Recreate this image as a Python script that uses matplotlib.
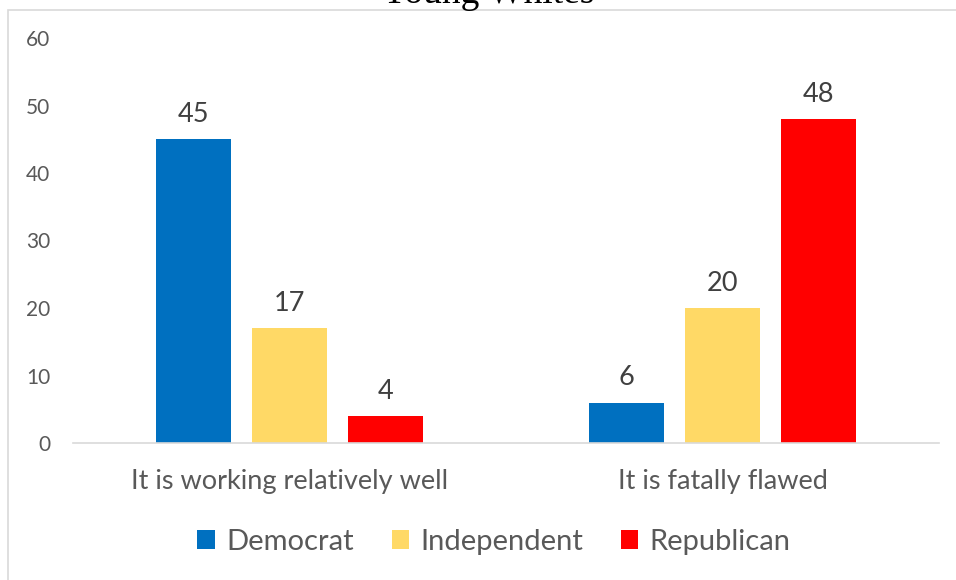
import numpy as np
import matplotlib.pyplot as plt
from matplotlib.patches import Rectangle

categories = ["It is working relatively well", "It is fatally flawed"]
parties = ["Democrat", "Independent", "Republican"]
democrat = [45, 6]
independent = [17, 20]
republican = [4, 48]
colors = ["#0070C0", "#FFD966", "#FF0000"]

plt.rcParams['font.family'] = ['Lato', 'DejaVu Sans']
grey = "#595959"

fig = plt.figure(figsize=(9.56, 5.8), dpi=100)
fig.patches.append(Rectangle((8 / 956, -0.1), 1.2, (580 - 10) / 580 + 0.1,
                             transform=fig.transFigure, fill=False,
                             edgecolor="#d9d9d9", linewidth=1.2))
fig.text(488 / 956, 1 - 3 / 580, "Young Whites", ha="center", va="baseline",
         fontsize=27, family="Liberation Serif", color="black")

ax = fig.add_axes([73 / 956, 137 / 580, 866 / 956, 405 / 580])
x = np.arange(len(categories))
w = 0.1755
off = 0.2217
for i, (name, vals) in enumerate(zip(parties, [democrat, independent, republican])):
    bars = ax.bar(x + (i - 1) * off, vals, w, color=colors[i], label=name)
    for b, v in zip(bars, vals):
        ax.text(b.get_x() + b.get_width() / 2, v + 3.7, str(v), ha="center",
                va="center", fontsize=19.5, color="#404040")

ax.set_xlim(-0.5, 1.5)
ax.set_ylim(0, 60)
ax.set_yticks(range(0, 61, 10))
ax.set_xticks(x)
ax.set_xticklabels(categories)
ax.tick_params(axis="y", length=0, pad=16.5, labelsize=15, labelcolor=grey)
ax.tick_params(axis="x", length=0, pad=19, labelsize=19.5, labelcolor=grey)
for s in ["top", "right", "left"]:
    ax.spines[s].set_visible(False)
ax.spines["bottom"].set_color("#d9d9d9")
ax.spines["bottom"].set_linewidth(1.2)

leg = fig.legend(loc="center", bbox_to_anchor=(494 / 956, 1 - 542 / 580), ncol=3,
                 frameon=False, fontsize=21, handlelength=0.6, handleheight=0.6,
                 columnspacing=1.3, handletextpad=0.38)
for t in leg.get_texts():
    t.set_color(grey)

fig.savefig("out.png", dpi=100)
